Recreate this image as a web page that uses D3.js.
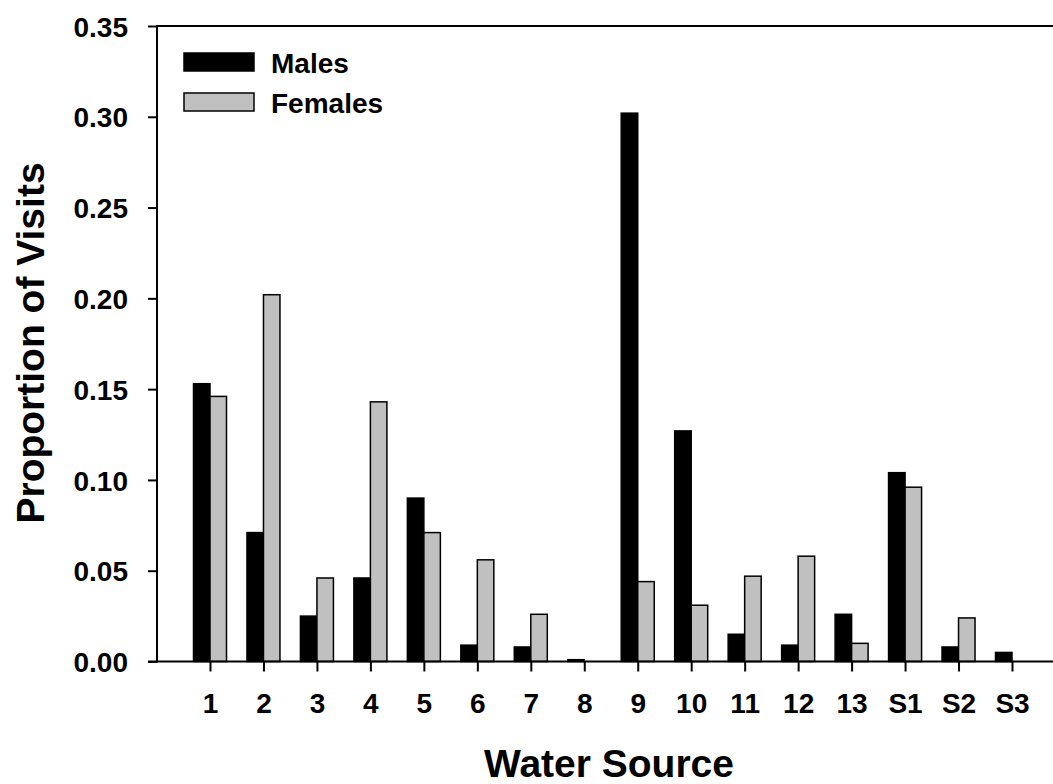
<!DOCTYPE html>
<meta charset="utf-8">
<style>
  body { margin: 0; background: #fff; }
  text { font-family: "Liberation Sans", Arial, sans-serif; font-weight: bold; fill: #000; }
</style>
<svg width="1053" height="784"></svg>
<script src="https://d3js.org/d3.v7.min.js"></script>
<script>
// data
const sources = ["1","2","3","4","5","6","7","8","9","10","11","12","13","S1","S2","S3"];
const males   = [0.153,0.071,0.025,0.046,0.090,0.009,0.008,0.001,0.302,0.127,0.015,0.009,0.026,0.104,0.008,0.005];
const females = [0.146,0.202,0.046,0.143,0.071,0.056,0.026,0,0.044,0.031,0.047,0.058,0.010,0.096,0.024,0];
const sexes = ["Males","Females"];
const yTicks = [0,0.05,0.10,0.15,0.20,0.25,0.30,0.35];

const fills = {Males: "#000", Females: "#c0c0c0"};

const svg = d3.select("svg");
const plotL = 157, plotR = 1070, plotT = 26, plotB = 661.5;

const x = d3.scalePoint().domain(sources).range([210, 1012]);
const sub = d3.scaleBand().domain(sexes).range([-16.5, 16.5]);
const y = d3.scaleLinear().domain([0, 0.35]).range([plotB, plotT]);

// y axis
const gy = svg.append("g")
  .attr("transform", "translate(" + plotL + ",0)")
  .call(d3.axisLeft(y).tickValues(yTicks).tickFormat(d3.format(".2f")).tickSize(9).tickPadding(20));
gy.select(".domain").remove();
gy.selectAll("line").attr("stroke", "#000").attr("stroke-width", 2);
gy.selectAll("text").style("font-size", "28px").attr("dy", "0.36em");

// x axis
const gx = svg.append("g")
  .attr("transform", "translate(0," + plotB + ")")
  .call(d3.axisBottom(x).tickSize(10).tickPadding(21.5));
gx.select(".domain").remove();
gx.selectAll("line").attr("stroke", "#000").attr("stroke-width", 2);
gx.selectAll("text").style("font-size", "28px");

// bars
const rows = sources.map((s, i) => ({source: s, values: [
  {sex: "Males", v: males[i]}, {sex: "Females", v: females[i]}]}));

const grp = svg.selectAll(".grp")
  .data(rows)
  .enter().append("g")
  .attr("class", "grp")
  .attr("transform", d => "translate(" + x(d.source) + ",0)");

grp.selectAll("rect")
  .data(d => d.values.filter(e => e.v > 0))
  .enter().append("rect")
  .attr("x", d => sub(d.sex))
  .attr("width", sub.bandwidth())
  .attr("y", d => y(d.v))
  .attr("height", d => y(0) - y(d.v))
  .attr("fill", d => fills[d.sex])
  .attr("stroke", "#000")
  .attr("stroke-width", 1.5);

// frame lines
svg.append("line").attr("x1", plotL).attr("x2", plotL).attr("y1", plotT - 1).attr("y2", plotB + 1)
  .attr("stroke", "#000").attr("stroke-width", 2);
svg.append("line").attr("x1", plotL).attr("x2", plotR).attr("y1", plotT).attr("y2", plotT)
  .attr("stroke", "#000").attr("stroke-width", 2);
svg.append("line").attr("x1", 148).attr("x2", plotR).attr("y1", plotB).attr("y2", plotB)
  .attr("stroke", "#000").attr("stroke-width", 2);

// legend
const leg = svg.append("g").attr("transform", "translate(184,53)");
sexes.forEach((s, i) => {
  leg.append("rect")
    .attr("x", 0).attr("y", i * 40)
    .attr("width", 70).attr("height", 18)
    .attr("fill", fills[s]).attr("stroke", "#000").attr("stroke-width", 1.5);
  leg.append("text")
    .attr("x", 87).attr("y", i * 40 + 20)
    .style("font-size", "28px")
    .text(s);
});

// axis titles
svg.append("text")
  .attr("transform", "translate(44,343) rotate(-90)")
  .attr("text-anchor", "middle")
  .style("font-size", "39px")
  .text("Proportion of Visits");

svg.append("text")
  .attr("x", 609).attr("y", 777)
  .attr("text-anchor", "middle")
  .style("font-size", "39px")
  .text("Water Source");
</script>
